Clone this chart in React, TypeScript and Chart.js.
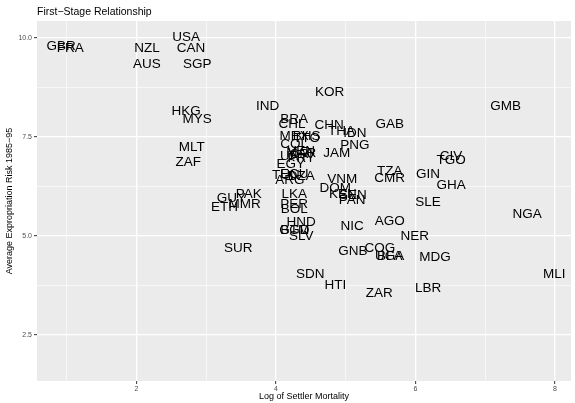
import React, { useEffect, useRef } from "react";
import { Chart, registerables } from "chart.js";

Chart.register(...registerables);

const countryCodes = [
  "GBR", "FRA", "NZL", "AUS", "USA", "CAN", "SGP", "HKG", "MYS", "MLT", "ZAF", "IND", "KOR",
  "BRA", "CHL", "CHN", "THA", "IDN", "GAB", "GMB", "MEX", "BHS", "TTO", "COL", "PNG", "JAM",
  "URY", "VEN", "MAR", "CRI", "PRY", "EGY", "TUN", "DZA", "ECU", "ARG", "CIV", "TGO", "TZA",
  "CMR", "GIN", "GHA", "VNM", "DOM", "KEN", "SEN", "PAN", "LKA", "PER", "BOL", "SLE", "NGA",
  "PAK", "GUY", "MMR", "ETH", "HND", "BGD", "GTM", "SLV", "NIC", "AGO", "NER", "GNB", "COG",
  "UGA", "BFA", "MDG", "SUR", "SDN", "HTI", "ZAR", "LBR", "MLI",
];

const logSettlerMortality = [
  0.92, 1.05, 2.15, 2.15, 2.71, 2.78, 2.87, 2.71, 2.87, 2.79, 2.74, 3.88, 4.77,
  4.26, 4.23, 4.76, 4.94, 5.13, 5.63, 7.29, 4.26, 4.44, 4.44, 4.26, 5.13, 4.87,
  4.26, 4.36, 4.36, 4.36, 4.36, 4.21, 4.14, 4.36, 4.26, 4.2, 6.51, 6.51, 5.63,
  5.63, 6.18, 6.51, 4.95, 4.85, 4.96, 5.1, 5.09, 4.26, 4.26, 4.26, 6.18, 7.6,
  3.61, 3.36, 3.55, 3.26, 4.36, 4.27, 4.26, 4.36, 5.09, 5.63, 5.99, 5.1, 5.49,
  5.63, 5.63, 6.28, 3.46, 4.49, 4.85, 5.48, 6.18, 7.99,
];

const expropriationRisk = [
  9.77, 9.72, 9.73, 9.32, 10.0, 9.73, 9.32, 8.14, 7.95, 7.23, 6.86, 8.27, 8.63,
  7.93, 7.82, 7.79, 7.63, 7.59, 7.82, 8.27, 7.5, 7.5, 7.45, 7.32, 7.29, 7.09,
  7.0, 7.14, 7.09, 7.05, 6.95, 6.8, 6.52, 6.5, 6.55, 6.39, 7.0, 6.91, 6.64,
  6.45, 6.55, 6.27, 6.43, 6.2, 6.05, 6.03, 5.91, 6.05, 5.8, 5.66, 5.84, 5.55,
  6.05, 5.94, 5.8, 5.73, 5.34, 5.14, 5.14, 5.0, 5.23, 5.36, 5.0, 4.6, 4.7,
  4.48, 4.48, 4.47, 4.7, 4.02, 3.75, 3.55, 3.67, 4.03,
];

const xTickValues = [1, 2, 3, 4, 5, 6, 7, 8];
const xMajorTicks = [2, 4, 6, 8];
const yTickValues = [2.5, 3.75, 5, 6.25, 7.5, 8.75, 10];
const yMajorTicks = [2.5, 5, 7.5, 10];

const chartTitle = "First\u2212Stage Relationship";
const xAxisTitle = "Log of Settler Mortality";
const yAxisTitle = "Average Expropriation Risk 1985\u221295";

const FONT = '"Liberation Sans", Arial, Helvetica, sans-serif';

const ggPlugin = {
  id: "ggPanel",
  beforeDraw(chart: any) {
    const { ctx, chartArea: a } = chart;
    ctx.save();
    ctx.fillStyle = "#FFFFFF";
    ctx.fillRect(0, 0, chart.width, chart.height);
    ctx.fillStyle = "#EBEBEB";
    ctx.fillRect(a.left, a.top, a.right - a.left, a.bottom - a.top);
    ctx.restore();
  },
  afterDatasetsDraw(chart: any) {
    const { ctx, chartArea: a } = chart;
    const meta = chart.getDatasetMeta(0);
    ctx.save();
    ctx.beginPath();
    ctx.rect(a.left, a.top, a.right - a.left, a.bottom - a.top);
    ctx.clip();
    ctx.font = `13.5px ${FONT}`;
    ctx.textAlign = "center";
    ctx.textBaseline = "middle";
    ctx.fillStyle = "#000000";
    meta.data.forEach((el: any, i: number) => {
      ctx.fillText(countryCodes[i], el.x, el.y);
    });
    ctx.restore();
  },
  afterDraw(chart: any) {
    const { ctx, chartArea: a } = chart;
    ctx.save();
    ctx.fillStyle = "#000000";
    ctx.font = `10.5px ${FONT}`;
    ctx.textAlign = "left";
    ctx.textBaseline = "alphabetic";
    ctx.fillText(chartTitle, a.left, 15);

    ctx.font = `9px ${FONT}`;
    ctx.textAlign = "center";
    ctx.textBaseline = "middle";
    ctx.fillText(xAxisTitle, (a.left + a.right) / 2, 397);

    ctx.translate(10, (a.top + a.bottom) / 2);
    ctx.rotate(-Math.PI / 2);
    ctx.fillText(yAxisTitle, 0, 0);
    ctx.restore();
  },
};

export default function App() {
  const canvasRef = useRef<HTMLCanvasElement | null>(null);

  useEffect(() => {
    const canvas = canvasRef.current;
    if (!canvas) return;
    const points = logSettlerMortality.map((x, i) => ({ x, y: expropriationRisk[i] }));
    const chart = new Chart(canvas, {
      type: "scatter",
      data: {
        datasets: [
          {
            data: points,
            pointRadius: 0,
            pointHoverRadius: 0,
            borderWidth: 0,
          },
        ],
      },
      options: {
        animation: false,
        responsive: false,
        devicePixelRatio: 1,
        events: [],
        layout: { padding: { left: 0, top: 21, right: 4, bottom: 0 } },
        plugins: {
          legend: { display: false },
          tooltip: { enabled: false },
          title: { display: false },
        },
        scales: {
          x: {
            type: "linear",
            min: 0.573,
            max: 8.229,
            afterBuildTicks: (s: any) => {
              s.ticks = xTickValues.map((v) => ({ value: v }));
            },
            afterFit: (s: any) => {
              s.height = 22;
            },
            border: { display: false },
            grid: {
              color: "#FFFFFF",
              lineWidth: (c: any) => (xMajorTicks.includes(c.tick?.value) ? 1.3 : 0.6),
              tickColor: (c: any) => (xMajorTicks.includes(c.tick?.value) ? "#333333" : "rgba(0,0,0,0)"),
              tickWidth: 1,
              tickLength: 3,
            },
            ticks: {
              autoSkip: false,
              maxRotation: 0,
              padding: 1,
              color: "#4D4D4D",
              font: { family: FONT, size: 7 },
              callback: (v: any) => (xMajorTicks.includes(Number(v)) ? String(v) : ""),
            },
          },
          y: {
            type: "linear",
            min: 1.34,
            max: 10.42,
            afterBuildTicks: (s: any) => {
              s.ticks = yTickValues.map((v) => ({ value: v }));
            },
            afterFit: (s: any) => {
              s.width = 37;
            },
            border: { display: false },
            grid: {
              color: "#FFFFFF",
              lineWidth: (c: any) => (yMajorTicks.includes(c.tick?.value) ? 1.3 : 0.6),
              tickColor: (c: any) => (yMajorTicks.includes(c.tick?.value) ? "#333333" : "rgba(0,0,0,0)"),
              tickWidth: 1,
              tickLength: 3,
            },
            ticks: {
              autoSkip: false,
              padding: 2,
              color: "#4D4D4D",
              font: { family: FONT, size: 7 },
              callback: (v: any) => (yMajorTicks.includes(Number(v)) ? Number(v).toFixed(1) : ""),
            },
          },
        },
      },
      plugins: [ggPlugin],
    });
    return () => chart.destroy();
  }, []);

  return (
    <div style={{ position: "fixed", left: 0, top: 0, width: 575, height: 403, background: "#FFFFFF" }}>
      <canvas ref={canvasRef} width={575} height={403} style={{ display: "block", width: 575, height: 403 }} />
    </div>
  );
}
